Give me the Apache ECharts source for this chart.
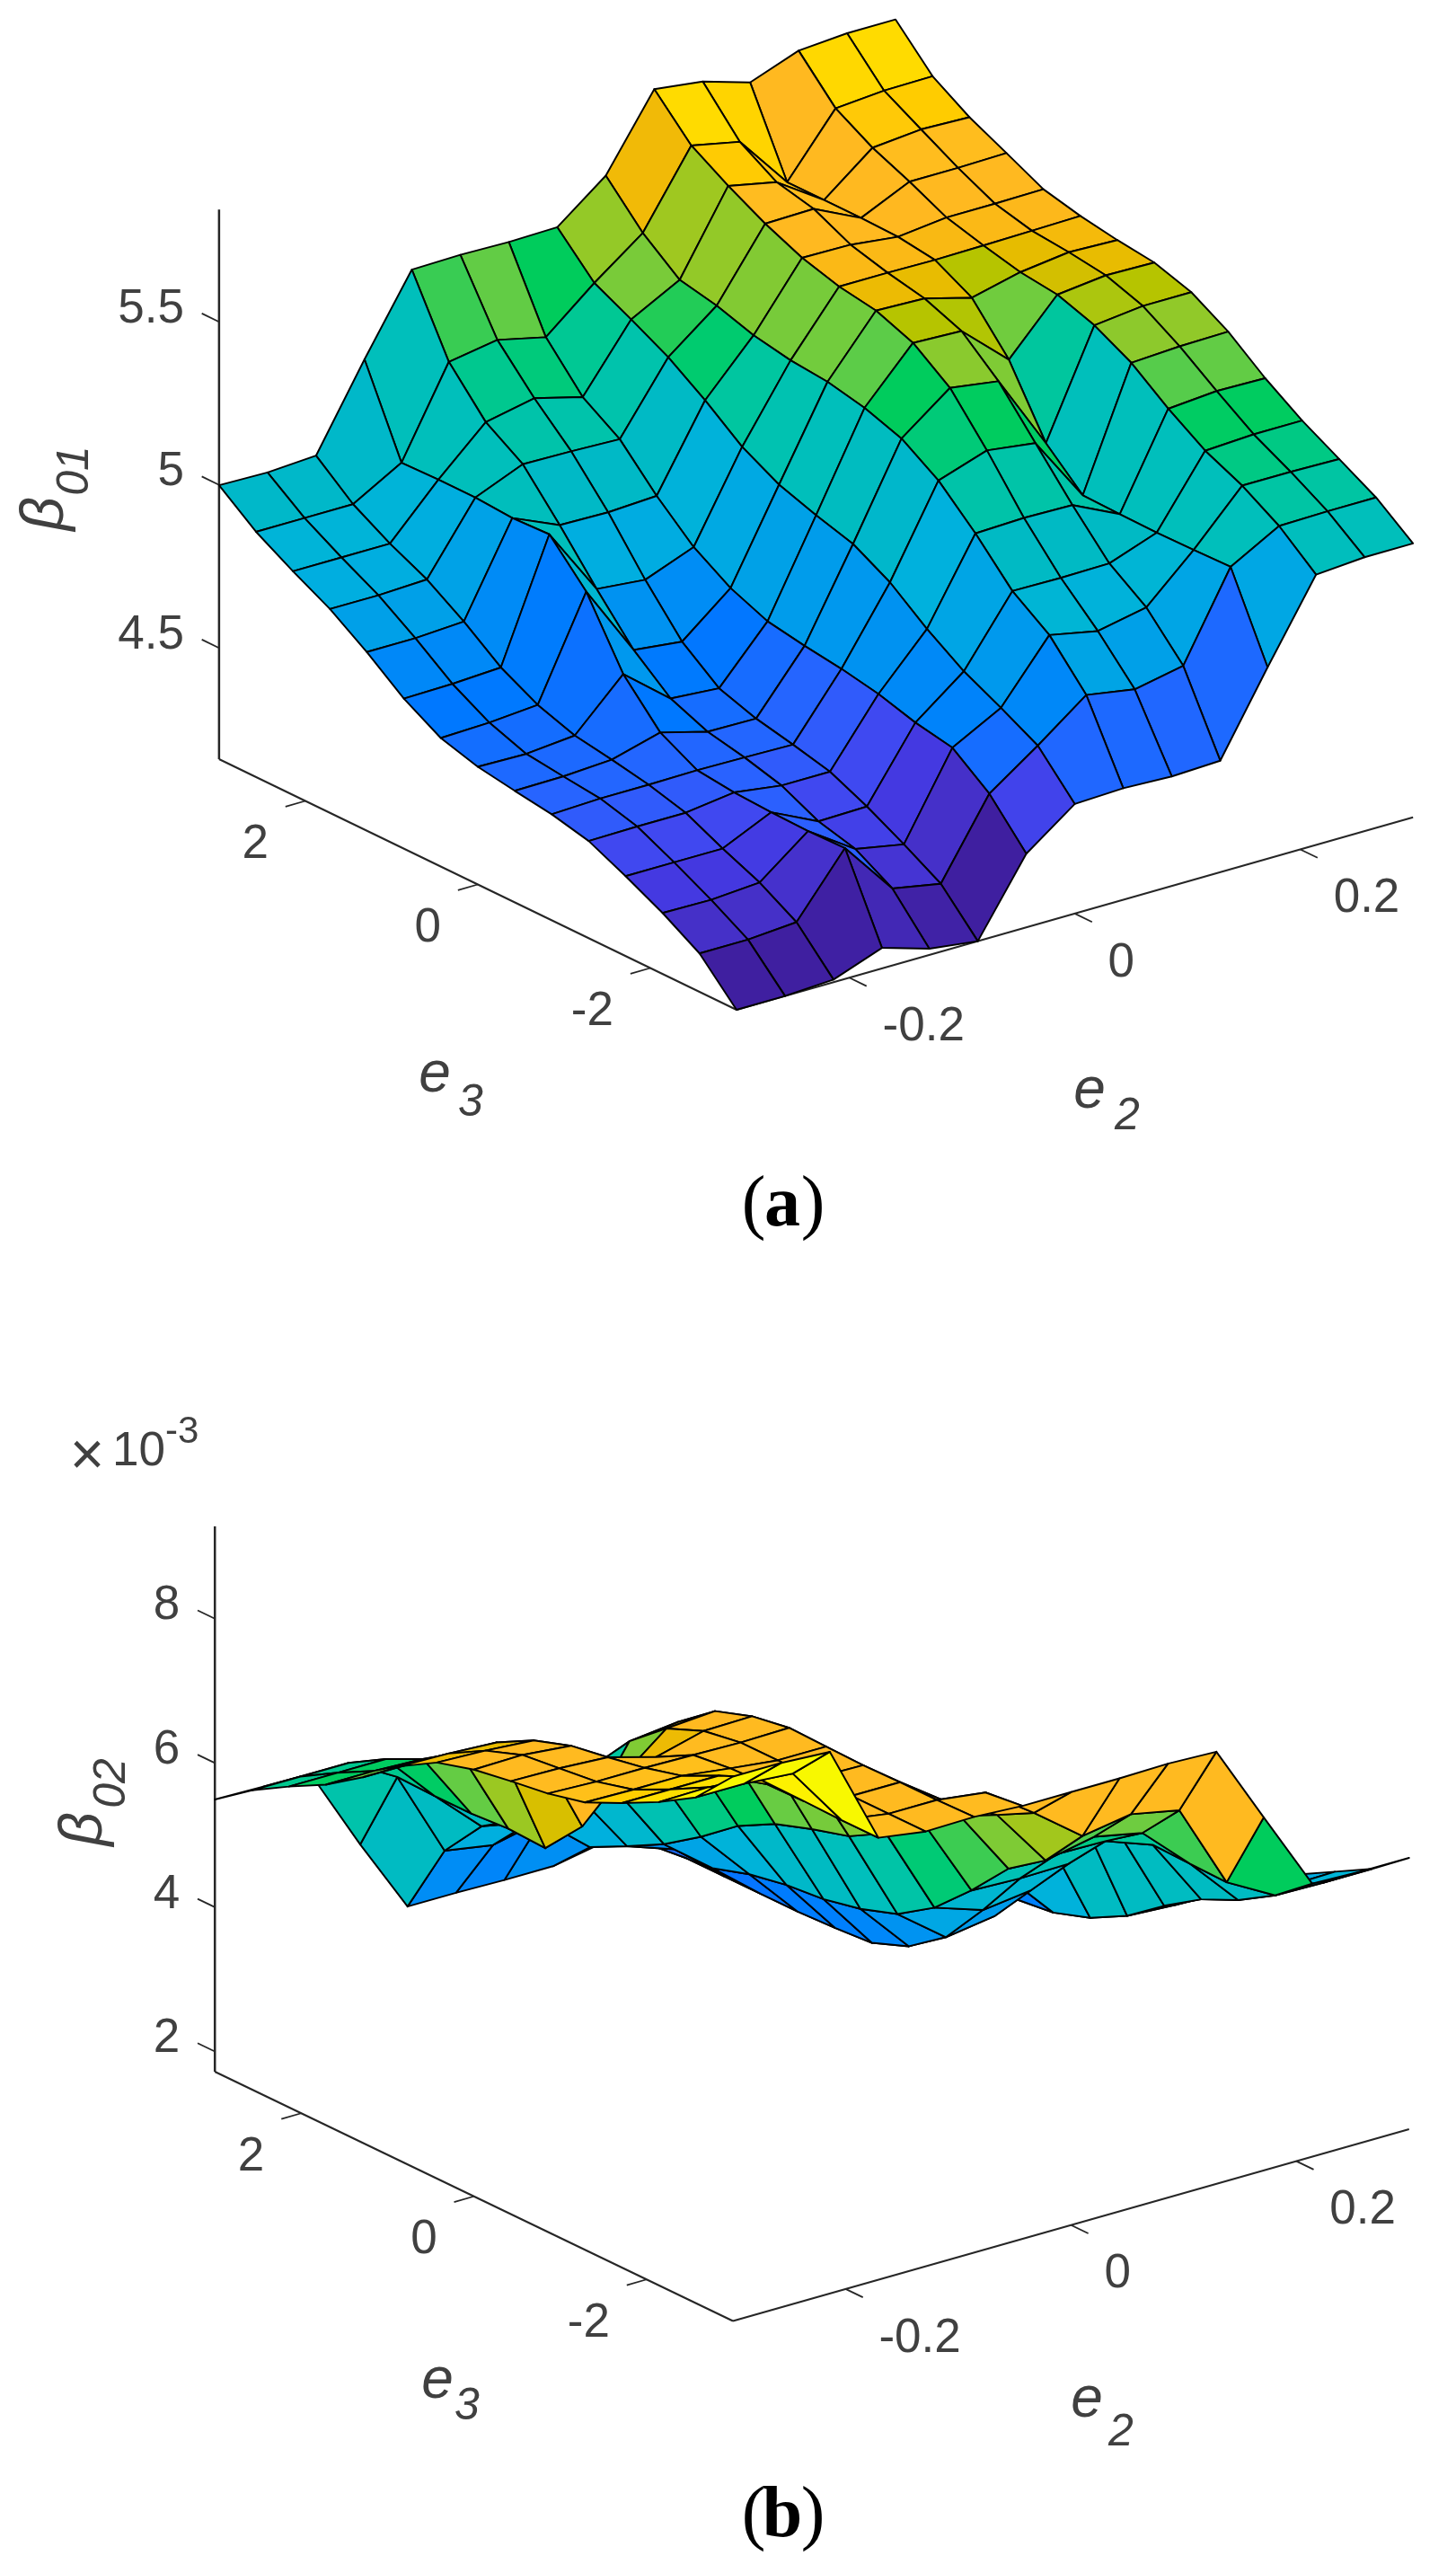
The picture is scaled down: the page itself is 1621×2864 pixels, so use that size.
<!DOCTYPE html>
<html><head><meta charset="utf-8">
<style>html,body{margin:0;padding:0;background:#fff}#c{width:1621px;height:2864px}</style>
<script src="https://cdn.jsdelivr.net/npm/echarts@6/dist/echarts.min.js"></script>
</head><body><div id="c"></div>
<script>
const e2Values=[-0.3,-0.257,-0.214,-0.171,-0.129,-0.086,-0.043,0,0.043,0.086,0.129,0.171,0.214,0.257,0.3];
const e3Values=[-3,-2.571,-2.143,-1.714,-1.286,-0.857,-0.429,0,0.429,0.857,1.286,1.714,2.143,2.571,3];
const e2Ticks=[-0.2,0,0.2];
const e3Ticks=[-2,0,2];
const beta01Ticks=[4.5,5,5.5];
const beta02Ticks=[2,4,6,8];
// rows follow e3Values, columns follow e2Values
const beta01=[
[4.159,4.159,4.167,4.222,4.178,4.159,4.385,4.495,4.501,4.495,4.501,4.746,4.988,4.999,4.999],
[4.277,4.277,4.288,4.473,4.308,4.280,4.514,4.619,4.732,4.707,4.737,4.999,5.082,5.085,5.085],
[4.346,4.344,4.355,4.470,4.374,4.346,4.600,4.680,4.861,4.831,4.861,4.996,5.151,5.151,5.148],
[4.404,4.404,4.404,4.473,4.404,4.407,4.622,4.737,4.941,4.939,4.941,4.994,5.203,5.211,5.211],
[4.457,4.459,4.459,4.479,4.459,4.459,4.655,4.812,5.063,5.068,5.065,4.996,5.277,5.289,5.286],
[4.484,4.490,4.490,4.492,4.490,4.487,4.677,4.900,5.170,5.220,5.200,4.999,5.363,5.371,5.374],
[4.501,4.503,4.512,4.553,4.514,4.512,4.693,4.963,5.244,5.357,5.335,5.104,5.423,5.440,5.440],
[4.520,4.517,4.531,4.677,4.561,4.550,4.713,4.996,5.283,5.440,5.434,5.305,5.462,5.479,5.476],
[4.553,4.558,4.570,4.875,4.655,4.638,4.760,5.035,5.308,5.484,5.479,5.440,5.476,5.495,5.490],
[4.619,4.622,4.630,4.996,4.787,4.773,4.831,5.096,5.319,5.503,5.503,5.501,5.503,5.506,5.509],
[4.707,4.707,4.716,4.991,4.928,4.925,4.933,5.184,5.341,5.536,5.534,5.517,5.534,5.534,5.536],
[4.784,4.784,4.790,4.999,5.060,5.057,5.052,5.261,5.377,5.586,5.589,5.520,5.589,5.589,5.592],
[4.845,4.845,4.845,4.999,5.134,5.165,5.126,5.322,5.401,5.647,5.616,5.520,5.638,5.652,5.647],
[4.911,4.911,4.911,4.996,5.264,5.289,5.255,5.379,5.490,5.716,5.685,5.520,5.704,5.716,5.718],
[4.999,4.996,5.005,5.258,5.492,5.495,5.492,5.495,5.611,5.834,5.815,5.771,5.826,5.837,5.837]
];
// in units of 10^-3
const beta02=[
[9.267,9.267,9.229,7.847,7.747,7.760,7.722,7.722,7.722,7.735,7.710,6.614,5.506,5.481,5.481],
[8.731,8.731,8.681,7.847,7.747,7.747,7.660,7.187,6.676,6.788,6.651,5.468,5.095,5.082,5.082],
[8.420,8.432,8.382,7.859,7.747,7.747,7.274,6.913,6.091,6.228,6.091,5.481,4.783,4.783,4.796],
[8.158,8.158,8.158,7.847,7.747,7.735,7.174,6.651,5.730,5.742,5.730,5.493,4.547,4.509,4.509],
[7.922,7.909,7.909,7.822,7.747,7.747,7.025,6.315,5.182,5.157,5.169,5.481,4.211,4.161,4.173],
[7.797,7.772,7.772,7.760,7.747,7.760,6.925,5.917,4.696,4.472,4.559,5.468,3.825,3.787,3.775],
[7.722,7.710,7.673,7.486,7.660,7.673,6.851,5.630,4.360,3.849,3.949,4.995,3.551,3.476,3.476],
[7.635,7.648,7.585,6.925,7.448,7.498,6.763,5.481,4.186,3.476,3.501,4.086,3.376,3.302,3.314],
[7.486,7.461,7.411,6.029,7.025,7.100,6.552,5.306,4.074,3.277,3.302,3.476,3.314,3.227,3.252],
[7.187,7.174,7.137,5.481,6.427,6.489,6.228,5.032,4.024,3.239,3.239,3.252,3.239,3.227,3.214],
[6.788,6.788,6.751,5.506,5.792,5.804,5.767,4.634,3.924,3.214,3.214,3.214,3.214,3.214,3.214],
[6.440,6.440,6.415,5.468,5.194,5.207,5.232,4.285,3.762,3.214,3.214,3.214,3.214,3.214,3.214],
[6.166,6.166,6.166,5.468,4.858,4.721,4.896,4.011,3.775,3.214,3.214,3.214,3.214,3.214,2.903],
[5.867,5.867,5.867,5.481,4.273,4.161,4.310,3.750,3.650,3.214,3.214,3.214,3.214,3.150,2.903],
[5.493,5.481,5.443,4.298,3.252,3.252,3.239,3.239,3.364,3.177,3.214,3.214,3.214,3.150,2.903]
];

const colorStops=[[0,'#3f1fa0'],[0.07,'#4530c8'],[0.11,'#4438e0'],[0.146,'#4048f0'],[0.19,'#2a62ff'],[0.235,'#0078ff'],[0.274,'#0088f8'],[0.327,'#00a0e8'],[0.373,'#00aee0'],[0.41,'#00b4d8'],[0.45,'#00b8c8'],[0.5,'#00bfbb'],[0.57,'#00c79b'],[0.625,'#00cc60'],[0.654,'#00cc5c'],[0.66,'#4bcc50'],[0.68,'#6ecc40'],[0.74,'#9fc820'],[0.763,'#b5c400'],[0.775,'#d0c000'],[0.785,'#e6bc00'],[0.795,'#f4ba08'],[0.805,'#ffb820'],[0.85,'#ffbc20'],[0.89,'#ffcc00'],[0.93,'#ffdc00'],[0.97,'#ffee00'],[1,'#f8f800']];
function hex(c){return [1,3,5].map(k=>parseInt(c.substr(k,2),16));}
function colorAt(f){
  f=Math.max(0,Math.min(1,f));
  for(let k=1;k<colorStops.length;k++){
    if(f<=colorStops[k][0]){
      const a=colorStops[k-1],b=colorStops[k],t=(f-a[0])/(b[0]-a[0]);
      const A=hex(a[1]),B=hex(b[1]);
      return 'rgb('+A.map((v,n)=>Math.round(v+(B[n]-v)*t)).join(',')+')';
    }
  }
  return colorStops[colorStops.length-1][1];
}

const viewA={top:0,height:1300,yFront:1124,x0:820,xE2:1255.3,xE3:-96.02,riseE2:357,riseE3:46.5,pxPerZ:363,zFloor:4.159,zTop:5.844,colorMin:4.159,colorMax:5.837};
const viewB={top:1500,height:1364,yFront:2583.5,x0:816,xE2:1254.6,xE3:-96.13,riseE2:355.8,riseE3:46.25,pxPerZ:80.3,zFloor:1.72,zTop:9.279,colorMin:2.467,colorMax:8.818};

function project(v,e2,e3,z){
  return [v.x0+(e2+0.3)*v.xE2+(e3+3)*v.xE3, z+((e2+0.3)*v.riseE2+(e3+3)*v.riseE3)/v.pxPerZ];
}
function surfaceSeries(v,idx,beta){
  const cells=[];
  for(let j=13;j>=0;j--)for(let i=13;i>=0;i--)cells.push([i,j]);
  return {type:'custom',xAxisIndex:idx,yAxisIndex:idx,coordinateSystem:'cartesian2d',clip:false,silent:true,animation:false,progressive:0,
    data:cells,
    renderItem:function(p,api){
      const i=api.value(0),j=api.value(1);
      const pts=[[i,j],[i+1,j],[i+1,j+1],[i,j+1]].map(q=>api.coord(project(v,e2Values[q[0]],e3Values[q[1]],beta[q[1]][q[0]])));
      const f=(beta[j][i]-v.colorMin)/(v.colorMax-v.colorMin);
      return {type:'polygon',shape:{points:pts},style:{fill:colorAt(f),stroke:'#000',lineWidth:1.95,lineJoin:'round'}};
    }};
}
function axisSeries(v,idx,zTicks){
  const e2a=-0.3,e2b=0.3,e3a=-3,e3b=3,f=v.zFloor;
  const items=[];
  const line=(a,b,w)=>items.push({a,b,w});
  const text=(at,label,dx,dy,align)=>items.push({at,label,dx,dy,align});
  line([e2a,e3b,f],[e2a,e3a,f],2.1);
  line([e2a,e3a,f],[e2b,e3a,f],2.1);
  line([e2a,e3b,f],[e2a,e3b,v.zTop],2.5);
  e3Ticks.forEach(t=>{line([e2a,t,f],[e2a-0.0176,t,f],1.8);text([e2a,t,f],String(t),-41,49,'right');});
  e2Ticks.forEach(t=>{line([t,e3a,f],[t,e3a-0.2,f],1.8);text([t,e3a,f],String(t),37,55,'left');});
  zTicks.forEach(t=>{line([e2a,e3b,t],[e2a,e3b+0.2,t],1.8);text([e2a,e3b,t],String(t),-39,-14,'right');});
  return {type:'custom',xAxisIndex:idx,yAxisIndex:idx,coordinateSystem:'cartesian2d',clip:false,silent:true,animation:false,progressive:0,
    data:items.map((_,k)=>[k]),
    renderItem:function(p,api){
      const it=items[api.value(0)];
      if(it.a){
        const A=api.coord(project(v,it.a[0],it.a[1],it.a[2])),B=api.coord(project(v,it.b[0],it.b[1],it.b[2]));
        return {type:'line',shape:{x1:A[0],y1:A[1],x2:B[0],y2:B[1]},style:{stroke:'#262626',lineWidth:it.w,fill:null}};
      }
      const P=api.coord(project(v,it.at[0],it.at[1],it.at[2]));
      return {type:'text',x:P[0]+it.dx,y:P[1]+it.dy,style:{text:it.label,fill:'#404040',font:'53px "Liberation Sans"',textAlign:it.align,textVerticalAlign:'middle'}};
    }};
}
function viewGrid(v){return {left:0,width:1621,top:v.top,height:v.height,show:false};}
function xA(idx){return {type:'value',gridIndex:idx,min:0,max:1621,show:false};}
function yA(v,idx){const mx=v.zFloor+(v.yFront-v.top)/v.pxPerZ;return {type:'value',gridIndex:idx,max:mx,min:mx-v.height/v.pxPerZ,show:false,scale:true};}
const SANS='"Liberation Sans"',SERIF='"Liberation Serif"',GREY='#404040';
function txt(s,x,y,font,extra){return Object.assign({type:'text',x,y,style:{text:s,font,fill:GREY,textAlign:'center',textVerticalAlign:'middle'}},extra||{});}
function rot(s,x,y,font){return txt(s,x,y,font,{rotation:Math.PI/2});}
function caption(letter,cx,cy){return [
  {type:'text',x:cx-32,y:cy,style:{text:'(',font:'80px '+SERIF,fill:'#000',textAlign:'center',textVerticalAlign:'middle'}},
  {type:'text',x:cx,y:cy,style:{text:letter,font:'bold 80px '+SERIF,fill:'#000',textAlign:'center',textVerticalAlign:'middle'}},
  {type:'text',x:cx+34,y:cy,style:{text:')',font:'80px '+SERIF,fill:'#000',textAlign:'center',textVerticalAlign:'middle'}}];}
const graphics=[
  txt('e',484,1197,'italic 64px '+SANS),txt('3',524,1228,'italic 50px '+SANS),
  txt('e',1213,1215,'italic 64px '+SANS),txt('2',1255,1243,'italic 50px '+SANS),
  rot('β',52,572,'italic 66px '+SANS),rot('01',84,524,'italic 50px '+SANS),
  txt('e',487,2651,'italic 64px '+SANS),txt('3',520,2679,'italic 50px '+SANS),
  txt('e',1210,2672,'italic 64px '+SANS),txt('2',1248,2708,'italic 50px '+SANS),
  rot('β',95,2036,'italic 66px '+SANS),rot('02',125,1985,'italic 50px '+SANS),
  txt('×',97,1623,'66px '+SANS),
  {type:'text',x:125,y:1643,style:{text:'10',font:'53px '+SANS,fill:GREY,textAlign:'left',textVerticalAlign:'bottom'}},
  {type:'text',x:184,y:1615,style:{text:'-3',font:'42px '+SANS,fill:GREY,textAlign:'left',textVerticalAlign:'bottom'}}
].concat(caption('a',871,1343),caption('b',871,2802));

const chart=echarts.init(document.getElementById('c'),null,{renderer:'canvas',width:1621,height:2864});
chart.setOption({
  backgroundColor:'#fff',animation:false,
  grid:[viewGrid(viewA),viewGrid(viewB)],
  xAxis:[xA(0),xA(1)],
  yAxis:[yA(viewA,0),yA(viewB,1)],
  series:[axisSeries(viewA,0,beta01Ticks),surfaceSeries(viewA,0,beta01),axisSeries(viewB,1,beta02Ticks),surfaceSeries(viewB,1,beta02)],
  graphic:{elements:graphics}
});
</script></body></html>
